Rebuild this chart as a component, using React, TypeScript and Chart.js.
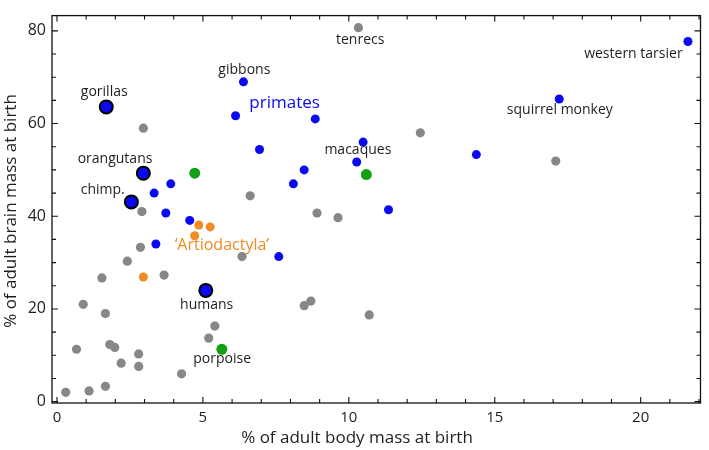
import React, { useEffect, useRef } from "react";
import { Chart, registerables } from "chart.js";

Chart.register(...registerables);

const FONT = '"Open Sans", "DejaVu Sans", sans-serif';

// Highlighted great apes + humans
const apesX = [1.69, 2.96, 2.55, 5.1];
const apesY = [63.6, 49.3, 43.1, 24.0];

// Other primates
const primatesX = [6.12, 6.39, 8.85, 6.94, 10.49, 10.27, 8.47, 8.1, 11.36, 14.37, 17.21, 21.62, 3.9, 3.33, 3.73, 4.55, 3.39, 7.6];
const primatesY = [61.7, 69.0, 61.0, 54.4, 56.0, 51.7, 50.0, 47.0, 41.4, 53.3, 65.3, 77.7, 47.0, 45.0, 40.7, 39.1, 34.0, 31.3];

// Other mammals
const otherX = [10.33, 12.45, 17.09, 2.96, 2.91, 6.62, 8.91, 9.63, 2.86, 2.41, 1.54, 3.67, 6.34, 0.9, 1.66, 0.67, 1.81, 1.98, 2.2, 2.8, 2.8, 0.3, 1.1, 1.66, 4.27, 5.41, 5.2, 8.47, 8.7, 10.7];
const otherY = [80.7, 58.0, 51.9, 59.0, 41.0, 44.4, 40.7, 39.7, 33.3, 30.3, 26.7, 27.3, 31.3, 21.0, 19.0, 11.3, 12.3, 11.7, 8.3, 10.3, 7.6, 2.0, 2.3, 3.3, 6.0, 16.3, 13.7, 20.7, 21.7, 18.7];

// Cetaceans (green)
const cetaceanX = [4.72, 10.6, 5.65];
const cetaceanY = [49.3, 49.0, 11.3];

// Artiodactyla (orange)
const artioX = [4.86, 5.25, 4.72, 2.96];
const artioY = [38.1, 37.7, 35.8, 26.9];

const xTicks = [0, 5, 10, 15, 20];
const yTicks = [0, 20, 40, 60, 80];

// Text labels (anchored in data units)
const labelText = ["gorillas", "orangutans", "chimp.", "humans", "porpoise", "\u2018Artiodactyla\u2019", "primates", "gibbons", "tenrecs", "macaques", "squirrel monkey", "western tarsier"];
const labelX = [1.62, 1.99, 1.57, 5.13, 5.66, 5.65, 7.8, 6.42, 10.39, 10.31, 17.23, 19.75];
const labelY = [66.8, 52.4, 45.7, 20.8, 9.1, 33.6, 64.3, 71.6, 78.0, 54.2, 62.9, 75.1];
const labelKind = ["n", "n", "n", "n", "n", "orange", "blue", "n", "n", "n", "n", "n"];

const BLUE = "#0a0af0";
const GRAY = "#878787";
const GREEN = "#14a014";
const ORANGE = "#f08a22";
const TEXT = "#1e1e1e";

const toPts = (xs: number[], ys: number[]) => xs.map((x, i) => ({ x, y: ys[i] }));

const framePlugin = {
  id: "frame",
  afterDatasetsDraw(chart: any) {
    const { ctx } = chart;
    const xs = chart.scales.x;
    const ys = chart.scales.y;
    ctx.save();
    ctx.textAlign = "center";
    ctx.textBaseline = "middle";
    labelText.forEach((t, i) => {
      const kind = labelKind[i];
      if (kind === "blue") {
        ctx.fillStyle = BLUE;
        ctx.font = `17px ${FONT}`;
      } else if (kind === "orange") {
        ctx.fillStyle = ORANGE;
        ctx.font = `16px ${FONT}`;
      } else {
        ctx.fillStyle = TEXT;
        ctx.font = `14px ${FONT}`;
      }
      ctx.fillText(t, xs.getPixelForValue(labelX[i]), ys.getPixelForValue(labelY[i]));
    });
    ctx.restore();
  },
  afterDraw(chart: any) {
    const { ctx, chartArea } = chart;
    const { left, right, top, bottom } = chartArea;
    const xs = chart.scales.x;
    const ys = chart.scales.y;
    ctx.save();
    ctx.strokeStyle = "#111";
    ctx.lineWidth = 1.3;
    ctx.strokeRect(left, top, right - left, bottom - top);
    ctx.lineWidth = 1.1;
    ctx.beginPath();
    for (let v = 0; v <= 22; v += 1) {
      const px = xs.getPixelForValue(v);
      const len = v % 5 === 0 ? 6 : 4;
      ctx.moveTo(px, bottom);
      ctx.lineTo(px, bottom - len);
      ctx.moveTo(px, top);
      ctx.lineTo(px, top + len);
    }
    for (let v = 0; v <= 80; v += 5) {
      const py = ys.getPixelForValue(v);
      const len = v % 20 === 0 ? 6 : 4;
      ctx.moveTo(left, py);
      ctx.lineTo(left + len, py);
      ctx.moveTo(right, py);
      ctx.lineTo(right - len, py);
    }
    ctx.stroke();
    // axis titles
    ctx.fillStyle = TEXT;
    ctx.font = `17px ${FONT}`;
    ctx.textAlign = "center";
    ctx.textBaseline = "middle";
    ctx.fillText("% of adult body mass at birth", 357, 438);
    ctx.translate(11, 211);
    ctx.rotate(-Math.PI / 2);
    ctx.fillText("% of adult brain mass at birth", 0, 0);
    ctx.restore();
  },
};

export default function App() {
  const ref = useRef<HTMLCanvasElement>(null);
  useEffect(() => {
    document.body.style.margin = "0";
    const canvas = ref.current!;
    const chart = new Chart(canvas, {
      type: "scatter",
      data: {
        datasets: [
          {
            label: "other",
            data: toPts(otherX, otherY),
            backgroundColor: GRAY,
            borderWidth: 0,
            pointRadius: 4.6,
          },
          {
            label: "artiodactyla",
            data: toPts(artioX, artioY),
            backgroundColor: ORANGE,
            borderWidth: 0,
            pointRadius: 4.5,
          },
          {
            label: "cetaceans",
            data: toPts(cetaceanX, cetaceanY),
            backgroundColor: GREEN,
            borderWidth: 0,
            pointRadius: 5.5,
          },
          {
            label: "primates",
            data: toPts(primatesX, primatesY),
            backgroundColor: BLUE,
            borderWidth: 0,
            pointRadius: 4.5,
          },
          {
            label: "apes",
            data: toPts(apesX, apesY),
            backgroundColor: BLUE,
            borderColor: "#000",
            borderWidth: 2,
            pointRadius: 6.5,
          },
        ],
      },
      options: {
        animation: false,
        responsive: false,
        devicePixelRatio: 1,
        layout: { padding: { left: 0, top: 1, right: 3, bottom: 0 } },
        plugins: { legend: { display: false }, tooltip: { enabled: false } },
        scales: {
          x: {
            type: "linear",
            min: -0.17,
            max: 22.05,
            grid: { display: false, drawTicks: false },
            border: { display: false },
            afterBuildTicks: (s: any) => {
              s.ticks = xTicks.map((v) => ({ value: v }));
            },
            afterFit: (s: any) => {
              s.height = 47;
            },
            ticks: {
              padding: 6,
              color: TEXT,
              font: { family: FONT, size: 15 },
            },
          },
          y: {
            type: "linear",
            min: -0.3,
            max: 83.3,
            grid: { display: false, drawTicks: false },
            border: { display: false },
            afterBuildTicks: (s: any) => {
              s.ticks = yTicks.map((v) => ({ value: v }));
            },
            afterFit: (s: any) => {
              s.width = 52;
            },
            ticks: {
              padding: 6,
              color: TEXT,
              font: { family: FONT, size: 16 },
            },
          },
        },
      },
      plugins: [framePlugin],
    } as any);
    return () => chart.destroy();
  }, []);
  return <canvas ref={ref} width={709} height={450} style={{ display: "block" }} />;
}
